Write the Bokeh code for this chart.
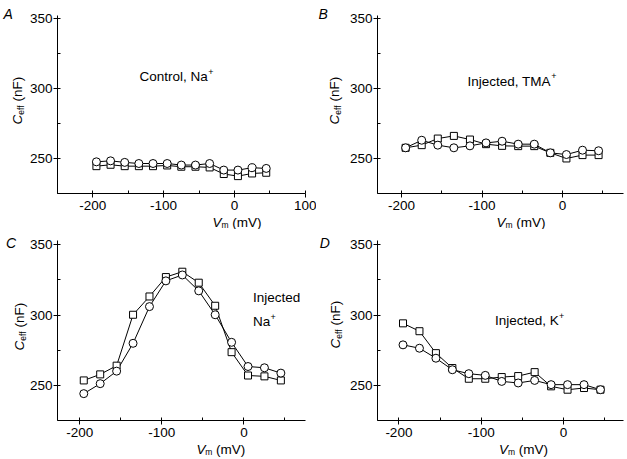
import math
from bokeh.plotting import figure
from bokeh.layouts import gridplot
from bokeh.models import Range1d, SingleIntervalTicker, PrintfTickFormatter
from bokeh.core.properties import value
from bokeh.embed import file_html
from bokeh.resources import INLINE

# ---------------- data ----------------
vm = [-195, -175, -155, -135, -115, -95, -75, -55, -35, -15, 5, 25, 45]

a_circ = [247.6, 248.3, 247.2, 246.4, 246.4, 246.4, 245.3, 245.3, 246.4, 241.7, 241.7, 243.4, 242.9]
a_sq = [244.5, 245.5, 244.5, 244.5, 244.5, 245.0, 244.1, 244.1, 243.6, 238.9, 237.4, 239.3, 239.8]

b_circ = [257.6, 263.0, 259.5, 257.6, 259.0, 261.1, 262.3, 260.2, 260.2, 254.0, 252.8, 255.9, 255.5]
b_sq = [257.6, 259.5, 264.2, 266.1, 263.5, 260.2, 259.0, 258.8, 258.8, 254.0, 250.0, 252.4, 252.4]

c_circ = [244.1, 251.2, 260.1, 279.9, 306.0, 324.3, 328.5, 317.2, 300.2, 280.6, 263.4, 262.5, 258.7]
c_sq = [253.5, 257.8, 264.0, 300.2, 313.2, 327.0, 330.8, 323.0, 306.6, 273.6, 257.0, 256.4, 253.5]

d_circ = [278.8, 276.4, 269.3, 261.1, 258.3, 257.1, 252.8, 251.7, 253.5, 250.5, 250.5, 250.5, 246.9]
d_sq = [294.1, 288.5, 272.9, 262.3, 254.7, 254.7, 255.9, 256.6, 259.4, 249.3, 246.9, 248.1, 246.9]

panel_letters = ["A", "B", "C", "D"]
x_ranges = [(-250, 100.5), (-230, 76), (-227, 75), (-226, 73)]
y_ranges = [(225, 352), (225, 352), (225, 353), (225, 353)]

FONT = "Liberation Sans"
FS = 13.5

# Arial-like advance widths (em)
W = {'C': .722, 'o': .556, 'n': .556, 't': .278, 'r': .333, 'l': .222, ',': .278,
     ' ': .278, 'N': .722, 'a': .556, 'I': .278, 'j': .222, 'e': .556, 'c': .5,
     'd': .556, 'T': .611, 'M': .833, 'A': .667, 'K': .667, 'V': .667, 'm': .833,
     '(': .333, ')': .333, 'F': .611, 'f': .278}


def tw(s, size):
    return sum(W[c] for c in s) * size


class Panel:
    def __init__(self, p, left, bottom, w, h, xr, yr):
        self.p, self.left, self.bottom, self.w, self.h = p, left, bottom, w, h
        self.xr, self.yr = xr, yr

    def txt(self, xp, yp, text, size, style="normal", angle=0.0):
        x0, x1 = self.xr
        y0, y1 = self.yr
        xd = x0 + (xp - self.left) / self.w * (x1 - x0)
        yd = y0 + (self.bottom - yp) / self.h * (y1 - y0)
        self.p.text(x=[xd], y=[yd], text=[text], angle=angle,
                    text_font=value(FONT), text_font_size=value(f"{size}px"),
                    text_font_style=value(style), text_color="black",
                    text_baseline="alphabetic", text_align="left", level="overlay")


def make_panel(w, h, mbl, mbr, mbt, mbb, top0, left0, xr, yr):
    p = figure(width=w, height=h, x_range=Range1d(*xr), y_range=Range1d(*yr),
               output_backend="svg", toolbar_location=None,
               min_border_left=mbl, min_border_right=mbr,
               min_border_top=mbt, min_border_bottom=mbb)
    p.outline_line_color = None
    p.border_fill_alpha = 0
    p.xgrid.visible = False
    p.ygrid.visible = False
    p.xaxis.ticker = SingleIntervalTicker(interval=100, num_minor_ticks=2)
    p.yaxis.ticker = SingleIntervalTicker(interval=50, num_minor_ticks=2)
    p.xaxis.formatter = PrintfTickFormatter(format="%d")
    p.yaxis.formatter = PrintfTickFormatter(format="%d")
    for ax in (p.xaxis[0], p.yaxis[0]):
        ax.axis_line_color = "black"
        ax.major_tick_line_color = "black"
        ax.minor_tick_line_color = "black"
        ax.major_tick_out = 4
        ax.major_tick_in = 0
        ax.minor_tick_out = 0
        ax.minor_tick_in = 3
        ax.major_label_text_font = FONT
        ax.major_label_text_font_size = f"{FS}px"
        ax.major_label_text_color = "black"
    p.xaxis.major_label_standoff = 3
    p.yaxis.major_label_standoff = 1
    fw = w - mbl - mbr
    fh = h - mbt - mbb
    return Panel(p, left0 + mbl, top0 + mbt + fh, fw, fh, xr, yr)


def draw(pn, circ, sq):
    p = pn.p
    p.line(vm, sq, line_color="black", line_width=1)
    p.line(vm, circ, line_color="black", line_width=1)
    p.scatter(vm, sq, marker="square", size=7, fill_color="white",
              line_color="black", line_width=1)
    p.scatter(vm, circ, marker="circle", size=8, fill_color="white",
              line_color="black", line_width=1)


def ylabel(pn, xb, y0):
    a = math.pi / 2
    pn.txt(xb, y0, "C", FS, "italic", a)
    y1 = y0 - tw("C", FS)
    pn.txt(xb + 3, y1, "eff", 8.5, "normal", a)
    y2 = y1 - tw("eff", 8.5) - tw(" ", FS)
    pn.txt(xb, y2, "(nF)", FS, "normal", a)


def xlabel(pn, x0, yb):
    pn.txt(x0, yb, "V", FS, "italic")
    x1 = x0 + tw("V", FS)
    pn.txt(x1, yb + 2.5, "m", 8.5)
    x2 = x1 + tw("m", 8.5) + tw(" ", FS)
    pn.txt(x2, yb, "(mV)", FS)


def note(pn, x0, yb, text):
    pn.txt(x0, yb, text, FS)
    pn.txt(x0 + tw(text, FS) + 0.5, yb - 5, "+", 9)


A = make_panel(316, 229, 57, 11, 15, 36, 0, 0, x_ranges[0], y_ranges[0])
B = make_panel(309, 229, 61, 2, 15, 36, 0, 316, x_ranges[1], y_ranges[1])
C = make_panel(316, 228, 55, 11, 11, 37, 229, 0, x_ranges[2], y_ranges[2])
D = make_panel(309, 228, 60, 2, 11, 37, 229, 316, x_ranges[3], y_ranges[3])

draw(A, a_circ, a_sq)
draw(B, b_circ, b_sq)
draw(C, c_circ, c_sq)
draw(D, d_circ, d_sq)

# panel letters
A.txt(3, 13, panel_letters[0], 14, "italic")
B.txt(318, 13, panel_letters[1], 14, "italic")
C.txt(3, 242, panel_letters[2], 14, "italic")
D.txt(318, 242, panel_letters[3], 14, "italic")

# axis labels
ylabel(A, 17, 124)
ylabel(B, 334, 124)
ylabel(C, 17, 350)
ylabel(D, 334, 348)

xlabel(A, 212, 222)
xlabel(B, 496, 222)
xlabel(C, 195, 449)
xlabel(D, 498, 449)

# annotations
note(A, 139, 76, "Control, Na")
note(B, 467, 80.5, "Injected, TMA")
C.txt(252, 296.5, "Injected", FS)
note(C, 252, 321, "Na")
note(D, 494, 320, "Injected, K")

grid = gridplot([[A.p, B.p], [C.p, D.p]], toolbar_location=None)

open("out.html", "w").write(file_html(grid, INLINE))
